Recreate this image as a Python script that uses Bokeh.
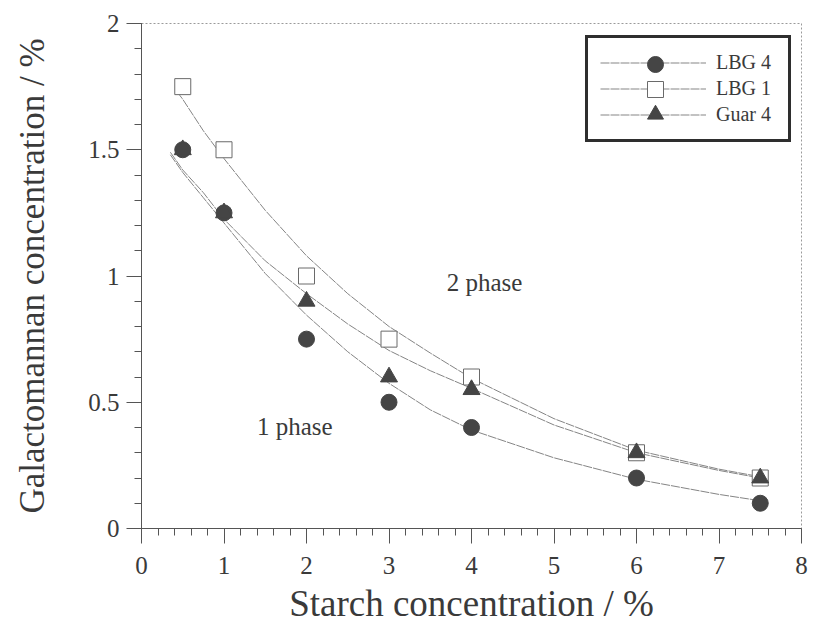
from bokeh.plotting import figure
from bokeh.models import FixedTicker, Legend, LegendItem, Label
from bokeh.embed import file_html
from bokeh.resources import INLINE

# Measured points
starch = [0.5, 1, 2, 3, 4, 6, 7.5]
lbg4 = [1.5, 1.25, 0.75, 0.5, 0.4, 0.2, 0.1]
lbg1 = [1.75, 1.5, 1.0, 0.75, 0.6, 0.3, 0.2]
guar4 = [1.5, 1.25, 0.9, 0.6, 0.55, 0.3, 0.2]
series_names = ["LBG 4", "LBG 1", "Guar 4"]

# Fitted curves
fit_lbg1_x = [0.43, 0.5, 0.75, 1, 1.5, 2, 2.5, 3, 3.5, 4, 5, 6, 7, 7.5]
fit_lbg1_y = [1.73, 1.70, 1.575, 1.465, 1.26, 1.08, 0.93, 0.80, 0.695, 0.595, 0.435, 0.31, 0.235, 0.205]
fit_guar4_x = [0.35, 0.5, 0.75, 1, 1.5, 2, 2.5, 3, 3.5, 4, 5, 6, 7, 7.5]
fit_guar4_y = [1.49, 1.42, 1.33, 1.225, 1.06, 0.93, 0.81, 0.705, 0.625, 0.555, 0.41, 0.30, 0.23, 0.20]
fit_lbg4_x = [0.35, 0.5, 0.75, 1, 1.5, 2, 2.5, 3, 3.5, 4, 5, 6, 7, 7.5]
fit_lbg4_y = [1.48, 1.41, 1.31, 1.21, 1.01, 0.845, 0.70, 0.575, 0.47, 0.39, 0.28, 0.195, 0.135, 0.11]

x_ticks = [0, 1, 2, 3, 4, 5, 6, 7, 8]
x_minor = [i * 0.2 for i in range(41)]
y_ticks = [0, 0.5, 1, 1.5, 2]
y_minor = [i * 0.1 for i in range(21)]

FONT = "Liberation Serif"
INK = "#3a3a3a"
MARK = "#454545"
CURVE = "#858585"

p = figure(frame_width=660, frame_height=505, x_range=(0, 8), y_range=(0, 2),
           output_backend="svg", toolbar_location=None,
           min_border_left=141, min_border_right=10, min_border_top=23, min_border_bottom=90)
p.grid.visible = False
p.background_fill_color = "white"
p.border_fill_color = "white"
p.outline_line_color = "#9a9a9a"
p.outline_line_dash = "2 2"
p.outline_line_width = 1

p.xaxis.ticker = FixedTicker(ticks=x_ticks, minor_ticks=x_minor)
p.yaxis.ticker = FixedTicker(ticks=y_ticks, minor_ticks=y_minor)
for ax in (p.xaxis[0], p.yaxis[0]):
    ax.axis_line_color = "#555555"
    ax.axis_line_width = 1
    ax.major_tick_line_color = "#555555"
    ax.minor_tick_line_color = "#555555"
    ax.major_tick_in = 0
    ax.minor_tick_in = 0
    ax.major_tick_out = 15
    ax.minor_tick_out = 7
    ax.major_label_text_font = FONT
    ax.major_label_text_font_size = "25px"
    ax.major_label_text_color = INK
    ax.axis_label_text_font = FONT
    ax.axis_label_text_font_style = "normal"
    ax.axis_label_text_color = INK
p.xaxis.axis_label_text_font_size = "37px"
p.yaxis.axis_label_text_font_size = "35px"
p.xaxis.major_label_standoff = 13
p.yaxis.major_label_standoff = 7
p.xaxis.axis_label_standoff = 6
p.yaxis.axis_label_standoff = 33
p.xaxis.axis_label = "Starch concentration / %"
p.yaxis.axis_label = "Galactomannan concentration / %"

# fitted curves
c4 = p.line(fit_lbg4_x, fit_lbg4_y, line_color=CURVE, line_width=1, line_dash="9 1")
c1 = p.line(fit_lbg1_x, fit_lbg1_y, line_color=CURVE, line_width=1, line_dash="9 1")
cg = p.line(fit_guar4_x, fit_guar4_y, line_color=CURVE, line_width=1, line_dash="9 1")

# markers
r4 = p.scatter(starch, lbg4, marker="circle", size=16, fill_color=MARK, line_color=MARK)
r1 = p.scatter(starch, lbg1, marker="square", size=16, fill_color="white", line_color="#6a6a6a", line_width=1)
rg = p.scatter(starch, guar4, marker="triangle", size=17, fill_color=MARK, line_color=MARK)

# main legend: box, lines and labels
legend = Legend(items=[
    LegendItem(label=series_names[0], renderers=[c4]),
    LegendItem(label=series_names[1], renderers=[c1]),
    LegendItem(label=series_names[2], renderers=[cg]),
], location=(444, 386))
legend.glyph_width = 106
legend.glyph_height = 25
legend.spacing = 1
legend.padding = 12
legend.margin = 0
legend.label_standoff = 10
legend.label_width = 60
legend.label_text_font = FONT
legend.label_text_font_size = "20px"
legend.label_text_color = INK
legend.border_line_color = "#2e2e2e"
legend.border_line_width = 3
legend.border_line_alpha = 1
legend.background_fill_color = "white"
legend.background_fill_alpha = 1
p.add_layout(legend)

# larger legend markers drawn on top of the legend lines
for k, rr in enumerate([r4, r1, rg]):
    ml = Legend(items=[LegendItem(label="", renderers=[rr])],
                location=(494, 444 - 25 * k))
    ml.glyph_width = 40
    ml.glyph_height = 40
    ml.padding = 0
    ml.margin = 0
    ml.spacing = 0
    ml.label_standoff = 0
    ml.label_width = 0
    ml.label_height = 0
    ml.label_text_font_size = "1px"
    ml.border_line_color = None
    ml.background_fill_alpha = 0
    p.add_layout(ml)

p.add_layout(Label(x=3.7, y=0.975, text="2 phase", text_font=FONT, text_font_size="25px",
                   text_color=INK, text_baseline="alphabetic"))
p.add_layout(Label(x=1.40, y=0.405, text="1 phase", text_font=FONT, text_font_size="25px",
                   text_color=INK, text_baseline="alphabetic"))

open("out.html", "w").write(file_html(p, INLINE))
